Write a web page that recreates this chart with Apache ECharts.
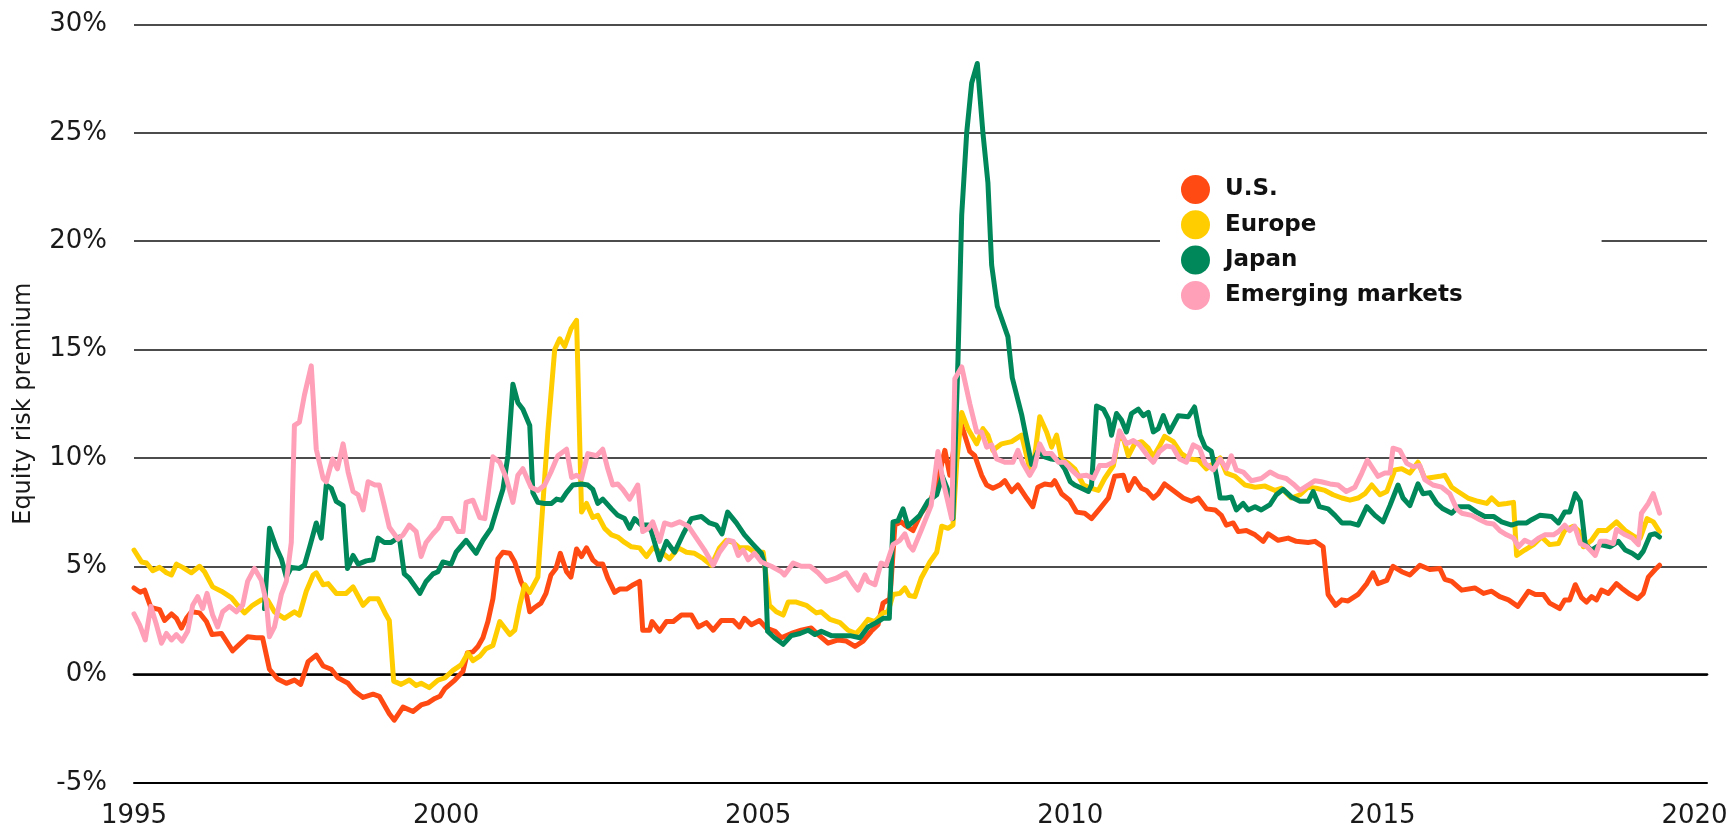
<!DOCTYPE html>
<html>
<head>
    <meta charset="utf-8">
    <title>Equity risk premium</title>
    <script src="https://cdn.jsdelivr.net/npm/echarts@6.0.0/dist/echarts.min.js"></script>
    <style>
        html, body { margin: 0; padding: 0; background: #fff; }
        #main { width: 1731px; height: 829px; }
    </style>
</head>
<body>
    <div id="main"></div>
    <script type="text/javascript">
        // [year, premium %], roughly monthly
        var seriesNames = ['U.S.', 'Europe', 'Japan', 'Emerging markets'];
        var yTicks = [-5, 0, 5, 10, 15, 20, 25, 30];
        var xTicks = [1995, 2000, 2005, 2010, 2015, 2020];

        var usData = [[1995.00,4.0],[1995.1,3.8],[1995.17,3.9],[1995.27,3.1],[1995.41,3.0],[1995.49,2.5],[1995.6,2.8],[1995.68,2.6],[1995.76,2.15],[1995.84,2.6],[1995.92,2.9],[1996.05,2.85],[1996.16,2.45],[1996.25,1.85],[1996.4,1.9],[1996.58,1.1],[1996.69,1.4],[1996.82,1.75],[1996.96,1.7],[1997.06,1.7],[1997.17,0.25],[1997.3,-0.2],[1997.44,-0.4],[1997.57,-0.25],[1997.67,-0.45],[1997.79,0.6],[1997.92,0.9],[1998.03,0.4],[1998.16,0.25],[1998.27,-0.15],[1998.43,-0.4],[1998.53,-0.75],[1998.67,-1.05],[1998.83,-0.9],[1998.93,-1.0],[1999.09,-1.8],[1999.17,-2.1],[1999.31,-1.5],[1999.47,-1.7],[1999.6,-1.4],[1999.71,-1.3],[1999.82,-1.1],[1999.9,-1.0],[1999.98,-0.65],[2000.14,-0.25],[2000.27,0.15],[2000.34,1.0],[2000.43,1.05],[2000.51,1.3],[2000.59,1.7],[2000.67,2.45],[2000.75,3.5],[2000.83,5.35],[2000.91,5.65],[2001.02,5.6],[2001.1,5.2],[2001.2,4.3],[2001.28,3.8],[2001.34,2.9],[2001.42,3.1],[2001.52,3.3],[2001.6,3.75],[2001.68,4.6],[2001.76,4.9],[2001.83,5.6],[2001.93,4.75],[2002.0,4.5],[2002.09,5.8],[2002.17,5.45],[2002.25,5.85],[2002.35,5.3],[2002.43,5.1],[2002.51,5.1],[2002.59,4.45],[2002.7,3.8],[2002.78,3.95],[2002.89,3.95],[2003.0,4.15],[2003.1,4.3],[2003.15,2.05],[2003.26,2.05],[2003.3,2.45],[2003.42,2.0],[2003.53,2.45],[2003.64,2.45],[2003.77,2.75],[2003.93,2.75],[2004.04,2.2],[2004.17,2.4],[2004.28,2.05],[2004.41,2.5],[2004.6,2.5],[2004.7,2.2],[2004.78,2.6],[2004.89,2.3],[2005.02,2.5],[2005.13,2.15],[2005.27,2.0],[2005.37,1.7],[2005.53,1.9],[2005.69,2.05],[2005.85,2.15],[2005.96,1.85],[2006.12,1.45],[2006.28,1.6],[2006.41,1.55],[2006.55,1.3],[2006.68,1.55],[2006.81,2.0],[2006.92,2.3],[2007.0,3.3],[2007.11,3.5],[2007.19,6.9],[2007.29,7.05],[2007.35,6.9],[2007.48,6.65],[2007.61,7.45],[2007.77,8.1],[2007.91,9.35],[2007.99,10.35],[2008.07,9.2],[2008.18,11.3],[2008.26,11.5],[2008.39,10.3],[2008.47,10.1],[2008.58,9.2],[2008.66,8.75],[2008.76,8.6],[2008.87,8.75],[2008.95,8.95],[2009.06,8.45],[2009.16,8.75],[2009.3,8.15],[2009.4,7.75],[2009.48,8.65],[2009.59,8.8],[2009.7,8.75],[2009.75,8.95],[2009.86,8.35],[2009.99,8.05],[2010.1,7.5],[2010.23,7.45],[2010.34,7.2],[2010.47,7.65],[2010.61,8.15],[2010.71,9.15],[2010.85,9.2],[2010.93,8.5],[2011.03,9.05],[2011.14,8.6],[2011.22,8.5],[2011.33,8.15],[2011.41,8.35],[2011.51,8.8],[2011.65,8.5],[2011.81,8.15],[2011.94,8.0],[2012.05,8.15],[2012.18,7.65],[2012.32,7.6],[2012.42,7.35],[2012.5,6.9],[2012.61,7.0],[2012.69,6.6],[2012.82,6.65],[2012.96,6.45],[2013.09,6.15],[2013.17,6.5],[2013.33,6.2],[2013.49,6.3],[2013.62,6.15],[2013.81,6.1],[2013.92,6.15],[2014.05,5.9],[2014.13,3.7],[2014.25,3.2],[2014.35,3.45],[2014.45,3.4],[2014.61,3.7],[2014.75,4.2],[2014.85,4.7],[2014.93,4.2],[2015.07,4.35],[2015.17,5.0],[2015.31,4.75],[2015.44,4.6],[2015.6,5.05],[2015.76,4.85],[2015.92,4.9],[2016.0,4.4],[2016.11,4.3],[2016.27,3.9],[2016.48,4.0],[2016.62,3.75],[2016.75,3.85],[2016.88,3.6],[2017.02,3.45],[2017.17,3.15],[2017.34,3.85],[2017.45,3.7],[2017.58,3.7],[2017.68,3.3],[2017.84,3.05],[2017.92,3.45],[2018.0,3.45],[2018.09,4.15],[2018.19,3.55],[2018.27,3.35],[2018.35,3.6],[2018.43,3.45],[2018.51,3.9],[2018.62,3.75],[2018.75,4.2],[2018.83,4.0],[2018.97,3.7],[2019.09,3.5],[2019.18,3.75],[2019.26,4.5],[2019.37,4.85],[2019.44,5.05]];

        var europeData = [[1995.0,5.75],[1995.12,5.2],[1995.2,5.15],[1995.3,4.8],[1995.41,4.95],[1995.52,4.7],[1995.6,4.6],[1995.68,5.1],[1995.78,4.95],[1995.92,4.7],[1996.05,5.0],[1996.13,4.75],[1996.26,4.05],[1996.4,3.85],[1996.56,3.55],[1996.66,3.2],[1996.77,2.85],[1996.9,3.2],[1997.04,3.45],[1997.14,3.45],[1997.25,2.9],[1997.41,2.6],[1997.57,2.9],[1997.65,2.75],[1997.76,3.85],[1997.87,4.6],[1997.92,4.7],[1998.03,4.15],[1998.11,4.2],[1998.24,3.75],[1998.4,3.75],[1998.51,4.05],[1998.67,3.2],[1998.77,3.5],[1998.91,3.5],[1999.04,2.75],[1999.09,2.5],[1999.16,-0.3],[1999.28,-0.45],[1999.41,-0.25],[1999.52,-0.5],[1999.6,-0.4],[1999.73,-0.6],[1999.87,-0.25],[1999.98,-0.15],[2000.11,0.2],[2000.24,0.45],[2000.35,1.0],[2000.43,0.65],[2000.54,0.85],[2000.64,1.2],[2000.75,1.35],[2000.86,2.45],[2001.02,1.85],[2001.1,2.05],[2001.18,3.2],[2001.26,4.15],[2001.34,3.8],[2001.47,4.5],[2001.52,6.6],[2001.63,11.2],[2001.74,15.0],[2001.82,15.5],[2001.9,15.15],[2002.0,15.95],[2002.09,16.35],[2002.17,7.5],[2002.25,7.9],[2002.35,7.25],[2002.43,7.35],[2002.54,6.75],[2002.65,6.45],[2002.75,6.35],[2002.86,6.1],[2002.97,5.9],[2003.1,5.85],[2003.21,5.45],[2003.31,5.85],[2003.45,5.65],[2003.58,5.35],[2003.72,5.85],[2003.85,5.65],[2003.98,5.6],[2004.12,5.35],[2004.25,5.05],[2004.38,5.85],[2004.49,6.2],[2004.6,6.1],[2004.7,5.85],[2004.84,5.85],[2004.94,5.65],[2005.08,5.65],[2005.18,3.2],[2005.29,2.9],[2005.4,2.75],[2005.48,3.35],[2005.61,3.35],[2005.77,3.2],[2005.93,2.85],[2006.01,2.9],[2006.15,2.55],[2006.31,2.4],[2006.44,2.05],[2006.57,1.9],[2006.65,2.15],[2006.76,2.55],[2006.87,2.45],[2007.0,2.85],[2007.08,2.9],[2007.16,3.7],[2007.27,3.75],[2007.35,4.0],[2007.42,3.65],[2007.51,3.6],[2007.61,4.45],[2007.75,5.2],[2007.86,5.65],[2007.94,6.85],[2008.04,6.75],[2008.12,6.9],[2008.18,9.8],[2008.26,12.1],[2008.36,11.35],[2008.5,10.65],[2008.6,11.35],[2008.68,11.05],[2008.76,10.35],[2008.9,10.65],[2009.06,10.75],[2009.22,11.05],[2009.35,9.5],[2009.43,10.1],[2009.51,11.9],[2009.62,11.2],[2009.7,10.5],[2009.78,11.05],[2009.86,9.95],[2009.97,9.75],[2010.07,9.5],[2010.21,8.75],[2010.34,8.6],[2010.45,8.5],[2010.55,9.05],[2010.69,9.65],[2010.77,10.9],[2010.85,10.9],[2010.93,10.1],[2011.03,10.65],[2011.14,10.75],[2011.25,10.45],[2011.33,10.05],[2011.44,10.6],[2011.51,11.0],[2011.65,10.75],[2011.78,10.2],[2011.91,9.95],[2012.05,9.9],[2012.18,9.5],[2012.29,9.75],[2012.4,10.0],[2012.5,9.3],[2012.64,9.15],[2012.8,8.75],[2012.96,8.65],[2013.12,8.7],[2013.28,8.5],[2013.38,8.6],[2013.54,8.15],[2013.68,8.3],[2013.81,8.65],[2013.94,8.6],[2014.08,8.5],[2014.21,8.3],[2014.35,8.15],[2014.48,8.05],[2014.61,8.15],[2014.72,8.35],[2014.83,8.75],[2014.96,8.3],[2015.07,8.45],[2015.2,9.45],[2015.31,9.5],[2015.44,9.3],[2015.57,9.8],[2015.68,9.05],[2015.79,9.1],[2015.92,9.15],[2016.0,9.2],[2016.11,8.65],[2016.21,8.45],[2016.37,8.15],[2016.53,8.0],[2016.67,7.9],[2016.75,8.15],[2016.86,7.85],[2016.99,7.9],[2017.1,7.95],[2017.15,5.5],[2017.28,5.75],[2017.42,6.0],[2017.55,6.35],[2017.68,6.0],[2017.82,6.05],[2017.92,6.65],[2018.06,6.85],[2018.14,6.65],[2018.22,5.9],[2018.35,6.2],[2018.46,6.65],[2018.59,6.65],[2018.75,7.05],[2018.89,6.65],[2019.05,6.35],[2019.13,6.3],[2019.24,7.2],[2019.34,7.05],[2019.44,6.6]];

        var japanData = [[1997.09,3.05],[1997.17,6.75],[1997.28,5.85],[1997.36,5.35],[1997.44,4.5],[1997.52,4.95],[1997.65,4.9],[1997.73,5.05],[1997.81,5.85],[1997.92,7.0],[1998.0,6.3],[1998.08,8.75],[1998.16,8.6],[1998.24,8.0],[1998.35,7.8],[1998.42,4.9],[1998.51,5.5],[1998.59,5.1],[1998.72,5.25],[1998.83,5.3],[1998.91,6.3],[1999.01,6.1],[1999.12,6.1],[1999.25,6.35],[1999.33,4.65],[1999.41,4.45],[1999.58,3.75],[1999.68,4.3],[1999.79,4.65],[1999.87,4.75],[1999.95,5.2],[2000.08,5.1],[2000.16,5.65],[2000.32,6.2],[2000.48,5.6],[2000.59,6.2],[2000.72,6.75],[2000.83,7.8],[2000.91,8.55],[2000.99,10.1],[2001.07,13.4],[2001.15,12.55],[2001.23,12.25],[2001.34,11.5],[2001.39,8.4],[2001.47,7.95],[2001.58,7.9],[2001.69,7.9],[2001.77,8.1],[2001.85,8.05],[2001.93,8.4],[2002.03,8.75],[2002.17,8.8],[2002.27,8.75],[2002.35,8.55],[2002.43,7.9],[2002.51,8.1],[2002.65,7.65],[2002.75,7.35],[2002.86,7.2],[2002.94,6.75],[2003.02,7.2],[2003.13,6.9],[2003.24,6.9],[2003.29,6.6],[2003.42,5.3],[2003.53,6.15],[2003.66,5.65],[2003.8,6.5],[2003.93,7.2],[2004.09,7.3],[2004.22,7.0],[2004.33,6.9],[2004.42,6.5],[2004.51,7.5],[2004.65,7.0],[2004.78,6.45],[2004.92,6.0],[2005.05,5.6],[2005.11,5.0],[2005.15,2.0],[2005.26,1.7],[2005.4,1.4],[2005.53,1.8],[2005.67,1.9],[2005.8,2.05],[2005.91,1.85],[2006.01,2.0],[2006.17,1.8],[2006.33,1.8],[2006.47,1.8],[2006.63,1.7],[2006.76,2.2],[2006.89,2.4],[2007.0,2.6],[2007.1,2.6],[2007.16,7.05],[2007.24,7.1],[2007.32,7.65],[2007.4,6.85],[2007.59,7.35],[2007.72,8.0],[2007.86,8.3],[2007.95,9.15],[2008.04,8.5],[2008.12,7.2],[2008.2,14.5],[2008.26,21.2],[2008.34,25.0],[2008.42,27.3],[2008.51,28.2],[2008.6,25.0],[2008.68,22.7],[2008.74,18.9],[2008.83,17.0],[2009.0,15.6],[2009.07,13.7],[2009.22,12.0],[2009.38,9.7],[2009.48,10.3],[2009.59,10.05],[2009.7,9.95],[2009.81,9.9],[2009.91,9.5],[2010.0,8.9],[2010.07,8.75],[2010.18,8.6],[2010.29,8.45],[2010.34,8.75],[2010.42,12.4],[2010.53,12.25],[2010.61,11.8],[2010.66,11.05],[2010.74,12.05],[2010.82,11.75],[2010.9,11.2],[2010.98,12.05],[2011.09,12.25],[2011.17,11.95],[2011.25,12.1],[2011.33,11.2],[2011.41,11.35],[2011.49,11.95],[2011.59,11.2],[2011.73,11.95],[2011.89,11.9],[2011.99,12.35],[2012.08,11.05],[2012.16,10.5],[2012.26,10.3],[2012.34,9.2],[2012.4,8.15],[2012.5,8.15],[2012.58,8.2],[2012.66,7.6],[2012.77,7.9],[2012.85,7.6],[2012.96,7.75],[2013.06,7.6],[2013.2,7.85],[2013.3,8.3],[2013.41,8.55],[2013.54,8.2],[2013.68,8.0],[2013.81,8.0],[2013.89,8.45],[2013.99,7.75],[2014.13,7.65],[2014.24,7.35],[2014.35,7.0],[2014.48,7.0],[2014.61,6.9],[2014.75,7.75],[2014.88,7.35],[2015.01,7.05],[2015.12,7.8],[2015.25,8.75],[2015.33,8.15],[2015.44,7.8],[2015.57,8.8],[2015.65,8.35],[2015.76,8.4],[2015.87,7.9],[2015.97,7.65],[2016.11,7.45],[2016.22,7.75],[2016.38,7.75],[2016.51,7.5],[2016.64,7.3],[2016.78,7.3],[2016.91,7.05],[2017.07,6.9],[2017.18,7.0],[2017.31,7.0],[2017.39,7.15],[2017.52,7.35],[2017.71,7.3],[2017.82,7.0],[2017.92,7.5],[2018.0,7.5],[2018.09,8.35],[2018.17,8.0],[2018.25,6.0],[2018.35,5.75],[2018.49,6.0],[2018.65,5.9],[2018.78,6.15],[2018.89,5.75],[2019.0,5.6],[2019.1,5.4],[2019.18,5.7],[2019.29,6.45],[2019.37,6.5],[2019.44,6.35]];

        var emData = [[1995.0,2.8],[1995.09,2.3],[1995.18,1.6],[1995.27,3.15],[1995.36,2.3],[1995.44,1.45],[1995.52,1.9],[1995.6,1.6],[1995.68,1.85],[1995.77,1.55],[1995.86,2.0],[1995.94,3.2],[1996.02,3.6],[1996.1,3.05],[1996.17,3.75],[1996.26,2.75],[1996.34,2.2],[1996.42,2.9],[1996.53,3.15],[1996.64,2.9],[1996.74,3.2],[1996.82,4.3],[1996.93,4.9],[1997.04,4.35],[1997.12,3.35],[1997.17,1.75],[1997.25,2.2],[1997.36,3.7],[1997.44,4.3],[1997.52,6.1],[1997.57,11.5],[1997.65,11.65],[1997.73,12.9],[1997.84,14.25],[1997.92,10.4],[1998.03,9.05],[1998.08,8.9],[1998.18,9.95],[1998.26,9.5],[1998.35,10.65],[1998.43,9.35],[1998.51,8.45],[1998.59,8.3],[1998.67,7.6],[1998.75,8.9],[1998.86,8.75],[1998.93,8.75],[1999.01,7.8],[1999.09,6.8],[1999.23,6.25],[1999.31,6.45],[1999.41,6.9],[1999.52,6.6],[1999.6,5.45],[1999.68,6.1],[1999.79,6.5],[1999.87,6.75],[1999.95,7.2],[2000.08,7.2],[2000.19,6.6],[2000.27,6.6],[2000.32,7.95],[2000.43,8.05],[2000.54,7.25],[2000.62,7.2],[2000.75,10.05],[2000.86,9.8],[2000.96,9.1],[2001.07,7.95],[2001.15,9.2],[2001.23,9.5],[2001.36,8.65],[2001.47,8.5],[2001.58,8.75],[2001.68,9.35],[2001.79,10.1],[2001.93,10.4],[2002.01,9.1],[2002.09,9.2],[2002.17,9.05],[2002.27,10.2],[2002.41,10.1],[2002.51,10.4],[2002.59,9.5],[2002.67,8.75],[2002.75,8.8],[2002.83,8.55],[2002.94,8.1],[2003.07,8.75],[2003.15,6.6],[2003.24,6.75],[2003.31,7.05],[2003.42,6.15],[2003.5,7.0],[2003.61,6.9],[2003.74,7.05],[2003.88,6.85],[2004.01,6.3],[2004.14,5.75],[2004.28,5.05],[2004.38,5.65],[2004.52,6.2],[2004.6,6.15],[2004.68,5.5],[2004.76,5.75],[2004.84,5.3],[2004.94,5.6],[2005.05,5.2],[2005.21,5.0],[2005.37,4.75],[2005.42,4.6],[2005.56,5.15],[2005.69,5.0],[2005.83,5.0],[2005.96,4.7],[2006.09,4.3],[2006.25,4.45],[2006.41,4.7],[2006.52,4.2],[2006.6,3.9],[2006.71,4.6],[2006.76,4.3],[2006.87,4.15],[2006.97,5.15],[2007.05,5.05],[2007.16,6.0],[2007.27,6.2],[2007.35,6.5],[2007.42,5.95],[2007.48,5.75],[2007.61,6.65],[2007.77,7.8],[2007.88,10.3],[2007.96,8.95],[2008.1,7.2],[2008.15,13.65],[2008.26,14.2],[2008.39,12.5],[2008.5,11.2],[2008.58,11.2],[2008.66,10.5],[2008.74,10.6],[2008.82,9.95],[2008.95,9.8],[2009.08,9.8],[2009.16,10.35],[2009.24,9.75],[2009.35,9.2],[2009.43,9.6],[2009.51,10.65],[2009.59,10.2],[2009.7,10.2],[2009.81,9.8],[2009.91,9.8],[2010.02,9.45],[2010.13,9.15],[2010.26,9.2],[2010.37,9.05],[2010.47,9.65],[2010.58,9.65],[2010.69,9.8],[2010.79,11.25],[2010.9,10.65],[2011.01,10.8],[2011.11,10.6],[2011.25,10.05],[2011.33,9.8],[2011.43,10.3],[2011.54,10.55],[2011.64,10.5],[2011.75,9.95],[2011.86,9.8],[2011.97,10.6],[2012.07,10.45],[2012.16,9.75],[2012.29,9.45],[2012.4,9.95],[2012.5,9.5],[2012.58,10.1],[2012.66,9.45],[2012.77,9.35],[2012.9,8.95],[2013.06,9.05],[2013.2,9.35],[2013.33,9.15],[2013.46,9.05],[2013.57,8.8],[2013.68,8.5],[2013.81,8.75],[2013.92,8.95],[2014.02,8.9],[2014.16,8.8],[2014.29,8.75],[2014.42,8.45],[2014.56,8.65],[2014.67,9.3],[2014.76,9.9],[2014.85,9.5],[2014.93,9.15],[2015.04,9.3],[2015.12,9.3],[2015.17,10.45],[2015.28,10.35],[2015.39,9.75],[2015.49,9.6],[2015.6,9.65],[2015.68,9.0],[2015.81,8.75],[2015.95,8.65],[2016.08,8.35],[2016.19,7.65],[2016.27,7.45],[2016.43,7.35],[2016.56,7.15],[2016.67,7.0],[2016.78,6.95],[2016.88,6.65],[2016.99,6.45],[2017.1,6.3],[2017.18,5.9],[2017.28,6.2],[2017.39,6.05],[2017.5,6.3],[2017.6,6.45],[2017.74,6.45],[2017.82,6.6],[2017.92,6.9],[2018.0,6.65],[2018.08,6.85],[2018.17,6.05],[2018.28,5.9],[2018.41,5.5],[2018.49,6.15],[2018.59,6.15],[2018.7,6.05],[2018.75,6.7],[2018.89,6.45],[2019.0,6.3],[2019.1,6.0],[2019.15,7.45],[2019.26,7.9],[2019.34,8.35],[2019.44,7.45]];

        var colors = ['#ff4a14', '#ffcd00', '#00885a', '#ff9fb8'];
        var allData = [usData, europeData, japanData, emData];

        var chart = echarts.init(document.getElementById('main'));

        var series = seriesNames.map(function (name, i) {
            return {
                name: name,
                type: 'line',
                data: allData[i],
                symbol: 'none',
                showSymbol: false,
                lineStyle: { width: 5, color: colors[i], join: 'round', cap: 'round' },
                itemStyle: { color: colors[i] },
                emphasis: { disabled: true },
                z: 3 + i
            };
        });

        var option = {
            animation: false,
            backgroundColor: '#fff',
            color: colors,
            grid: { left: 134, right: 24, top: 24.5, bottom: 43.3 },
            legend: {
                data: seriesNames,
                orient: 'vertical',
                icon: 'circle',
                left: 1160,
                top: 165,
                itemWidth: 49,
                itemHeight: 29,
                itemGap: 6.3,
                padding: [10, 139, 10, 21],
                backgroundColor: '#fff',
                selectedMode: false,
                textStyle: { fontFamily: 'DejaVu Sans', fontWeight: 'bold', fontSize: 23, color: '#111' }
            },
            xAxis: [{
                type: 'value',
                min: xTicks[0],
                max: 2020.2,
                interval: 5,
                axisLine: { show: true, onZero: false, lineStyle: { color: '#000', width: 2 } },
                axisTick: { show: false },
                splitLine: { show: false },
                axisLabel: {
                    margin: 20,
                    fontFamily: 'DejaVu Sans',
                    fontSize: 26,
                    color: '#1a1a1a',
                    formatter: function (v) { return xTicks.indexOf(v) >= 0 ? String(v) : ''; }
                }
            }, {
                // heavier zero line
                type: 'value',
                min: xTicks[0],
                max: 2020.2,
                axisLine: { show: true, onZero: true, lineStyle: { color: '#000', width: 2.7 } },
                axisTick: { show: false },
                axisLabel: { show: false },
                splitLine: { show: false }
            }],
            yAxis: {
                type: 'value',
                min: yTicks[0],
                max: yTicks[yTicks.length - 1],
                interval: 5,
                name: 'Equity risk premium',
                nameLocation: 'middle',
                nameGap: 98,
                nameTextStyle: { fontFamily: 'DejaVu Sans', fontSize: 24, color: '#1a1a1a' },
                axisLine: { show: false },
                axisTick: { show: false },
                axisLabel: {
                    margin: 27,
                    fontFamily: 'DejaVu Sans',
                    fontSize: 26,
                    color: '#1a1a1a',
                    formatter: '{value}%'
                },
                splitLine: { lineStyle: { color: '#111', width: 1.5 } }
            },
            series: series
        };

        chart.setOption(option);
    </script>
</body>
</html>
